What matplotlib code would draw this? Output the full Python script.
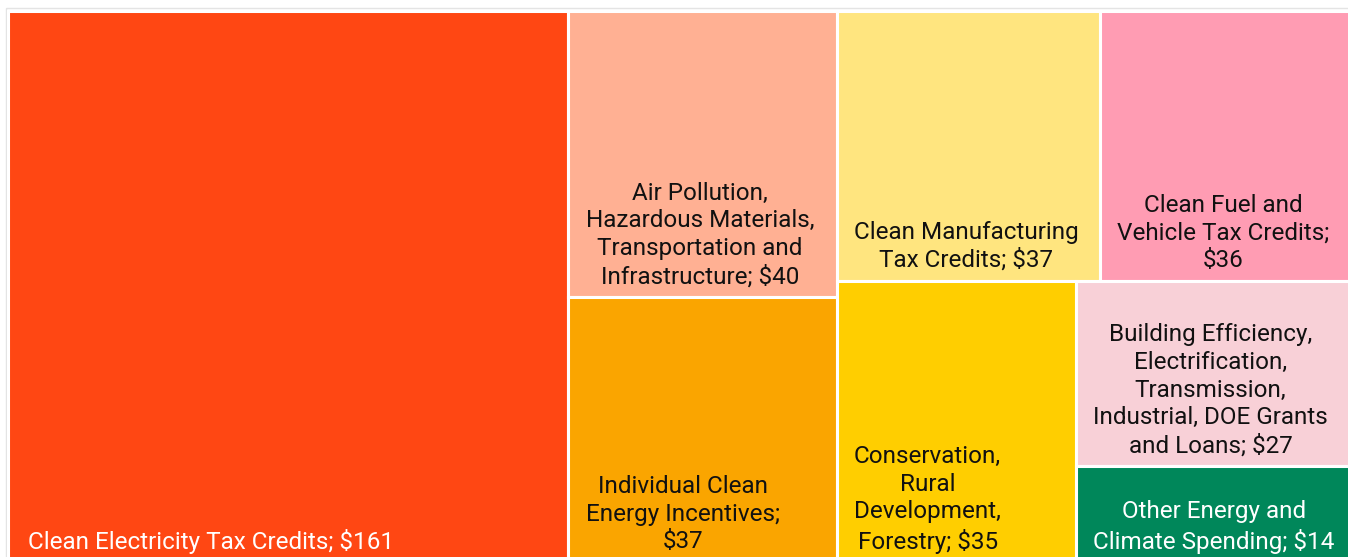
import matplotlib.pyplot as plt
from matplotlib.patches import Rectangle

plt.rcParams['font.family'] = ['Roboto', 'DejaVu Sans']

labels = ['Clean Electricity Tax Credits; $161',
          'Air Pollution,\nHazardous Materials,\nTransportation and\nInfrastructure; $40',
          'Individual Clean\nEnergy Incentives;\n$37',
          'Clean Manufacturing\nTax Credits; $37',
          'Clean Fuel and\nVehicle Tax Credits;\n$36',
          'Conservation,\nRural\nDevelopment,\nForestry; $35',
          'Building Efficiency,\nElectrification,\nTransmission,\nIndustrial, DOE Grants\nand Loans; $27',
          'Other Energy and\nClimate Spending; $14']
values = [161, 40, 37, 37, 36, 35, 27, 14]
colors = ['#ff4713', '#ffb093', '#faa500', '#ffe57f', '#ff9cb3', '#ffce00', '#f8d0d7', '#00875a']
text_colors = ['white', '#111111', '#111111', '#111111', '#111111', '#111111', '#111111', 'white']


def squarify(areas, x, y, w, h):
    # squarified treemap, y grows downward
    rects = []
    vals = list(areas)
    while vals:
        side = min(w, h)

        def worst(row):
            thick = sum(row) / side
            return max(max(thick / (v / thick), (v / thick) / thick) for v in row)

        row = [vals[0]]
        i = 1
        while i < len(vals) and worst(row + [vals[i]]) <= worst(row):
            row.append(vals[i])
            i += 1
        vals = vals[i:]
        thick = sum(row) / side
        if w >= h:
            yy = y
            for v in row:
                rects.append((x, yy, thick, v / thick))
                yy += v / thick
            x += thick
            w -= thick
        else:
            xx = x
            for v in row:
                rects.append((xx, y, v / thick, thick))
                xx += v / thick
            y += thick
            h -= thick
    return rects


fig = plt.figure(figsize=(13.48, 5.57), dpi=100)
ax = fig.add_axes([0, 0, 1, 1])
ax.set_xlim(0, 1348)
ax.set_ylim(557, 0)
ax.axis('off')

X0, Y0, W, H = 7.5, 10.5, 1348, 552
total = sum(values)
areas = [v / total * W * H for v in values]
rects = squarify(areas, X0, Y0, W, H)

ax.add_patch(Rectangle((6, 8), 1400, 600, fill=False, ec='#e4e4e4', lw=1))

for (x, y, w, h), lab, c, tc in zip(rects, labels, colors, text_colors):
    ax.add_patch(Rectangle((x, y), w, h, fc=c, ec='white', lw=2.2))
    if '\n' in lab:
        ax.text(x + 17.5, y + h - 9, lab, ha='left', va='bottom', ma='center',
                fontsize=17.5, color=tc, linespacing=1.26)
    else:
        ax.text(x + 20.5, y + h - 9, lab, ha='left', va='bottom',
                fontsize=17.5, color=tc)

plt.savefig('out.png', dpi=100)
